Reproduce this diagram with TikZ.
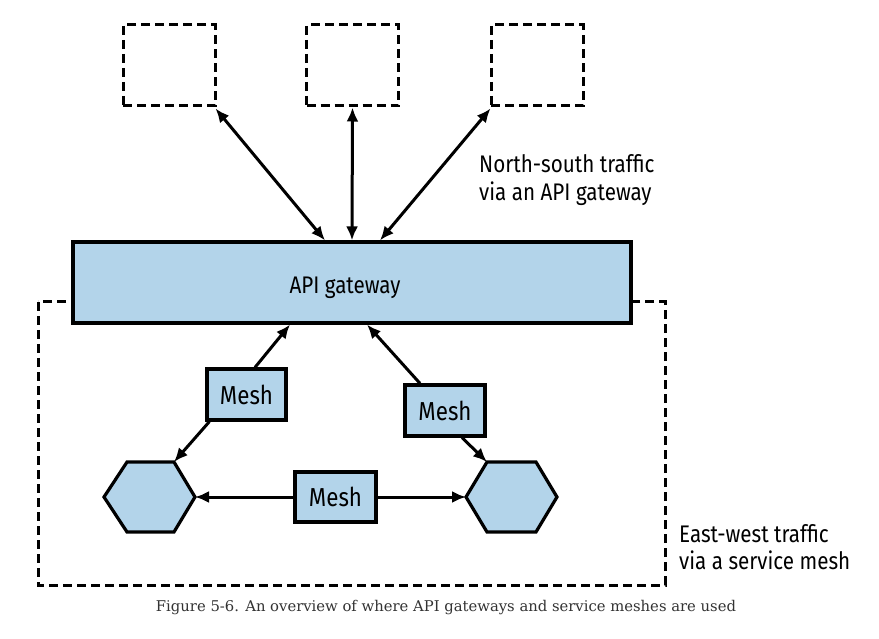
\documentclass[tikz,border=0pt]{standalone}
\usepackage{fontspec}
\setmainfont{Fira Sans}
\newfontfamily\labfont[FakeStretch=0.86]{Fira Sans}
\newfontfamily\capfont{DejaVu Serif}
\usetikzlibrary{arrows.meta}
\definecolor{boxblue}{HTML}{B3D4EA}
\definecolor{capgray}{HTML}{333333}
\tikzset{
  lab/.style={font=\labfont\fontsize{24}{27.6}\selectfont},
  meshlab/.style={font=\labfont\fontsize{26}{28}\selectfont},
  dashbox/.style={draw, line width=3pt, dash pattern=on 9pt off 5pt, minimum width=92pt, minimum height=81pt, inner sep=0pt},
  bluebox/.style={draw, line width=3.2pt, fill=boxblue, inner sep=0pt},
  hexa/.style={draw, line width=3.2pt, fill=boxblue, line join=miter},
  conn/.style={line width=3pt, -{Latex[length=14pt,width=12pt]}},
  conn2/.style={line width=3pt, {Latex[length=14pt,width=12pt]}-{Latex[length=14pt,width=12pt]}},
}
\begin{document}
\begin{tikzpicture}[x=1pt,y=-1pt]
\useasboundingbox (0,0) rectangle (879,639);
\fill[white] (0,0) rectangle (879,639);
% east-west region
\draw[line width=3pt, dash pattern=on 9pt off 5pt] (38,302) rectangle (665,585);
% top external boxes
\node[dashbox] (t1) at (169,65.5) {};
\node[dashbox] (t2) at (352.5,65.5) {};
\node[dashbox] (t3) at (537,65.5) {};
% gateway
\node[bluebox, minimum width=558pt, minimum height=81pt] (gw) at (352,282.5) {};
\node[lab, inner sep=0pt, anchor=base] (gwtxt) at (345,293.3) {API gateway};
% mesh boxes
\node[bluebox, meshlab, minimum width=79pt, minimum height=51pt] (m1) at (246.5,394.5) {Mesh};
\node[bluebox, meshlab, minimum width=80pt, minimum height=51pt] (m2) at (445,410.5) {Mesh};
\node[bluebox, meshlab, minimum width=81pt, minimum height=50pt] (m3) at (335.5,497) {Mesh};
% hexagons
\coordinate (hLl) at (104,497); \coordinate (hLtl) at (127,462); \coordinate (hLtr) at (174,462);
\coordinate (hLr) at (195,497); \coordinate (hLbr) at (174,532); \coordinate (hLbl) at (127,532);
\draw[hexa] (hLl) -- (hLtl) -- (hLtr) -- (hLr) -- (hLbr) -- (hLbl) -- cycle;
\coordinate (hRl) at (466,497); \coordinate (hRtl) at (487,462); \coordinate (hRtr) at (536,462);
\coordinate (hRr) at (557,497); \coordinate (hRbr) at (536,532); \coordinate (hRbl) at (487,532);
\draw[hexa] (hRl) -- (hRtl) -- (hRtr) -- (hRr) -- (hRbr) -- (hRbl) -- cycle;
% north-south connectors
\draw[conn2] ([xshift=-1pt,yshift=-1pt]t1.south east) -- ([xshift=-27pt]gw.north);
\draw[conn2] (t2.south) -- (gw.north);
\draw[conn2] ([xshift=1pt,yshift=-1pt]t3.south west) -- ([xshift=28pt]gw.north);
% mesh connectors
\draw[conn] ([xshift=8.5pt]m1.north) -- ([xshift=-62pt]gw.south);
\draw[conn] ([xshift=-25pt]m2.north) -- ([xshift=15pt]gw.south);
\draw[conn] ([xshift=4pt]m1.south west) -- (hLtr);
\draw[conn] ([xshift=17pt]m2.south) -- (hRtl);
\draw[conn] (m3.west) -- (hLr);
\draw[conn] (m3.east) -- (hRl);
% labels
\node[lab, anchor=west, align=left, inner sep=0pt] (ns) at (479,180) {North-south traffic\\via an API gateway};
\node[lab, anchor=west, align=left, inner sep=0pt] (ew) at (679,547) {East-west traffic\\via a service mesh};
% caption
\node[font=\capfont\fontsize{14.8}{16}\selectfont, text=capgray, inner sep=0pt] (cap) at (446,608) {Figure 5-6. An overview of where API gateways and service meshes are used};
\end{tikzpicture}
\end{document}
